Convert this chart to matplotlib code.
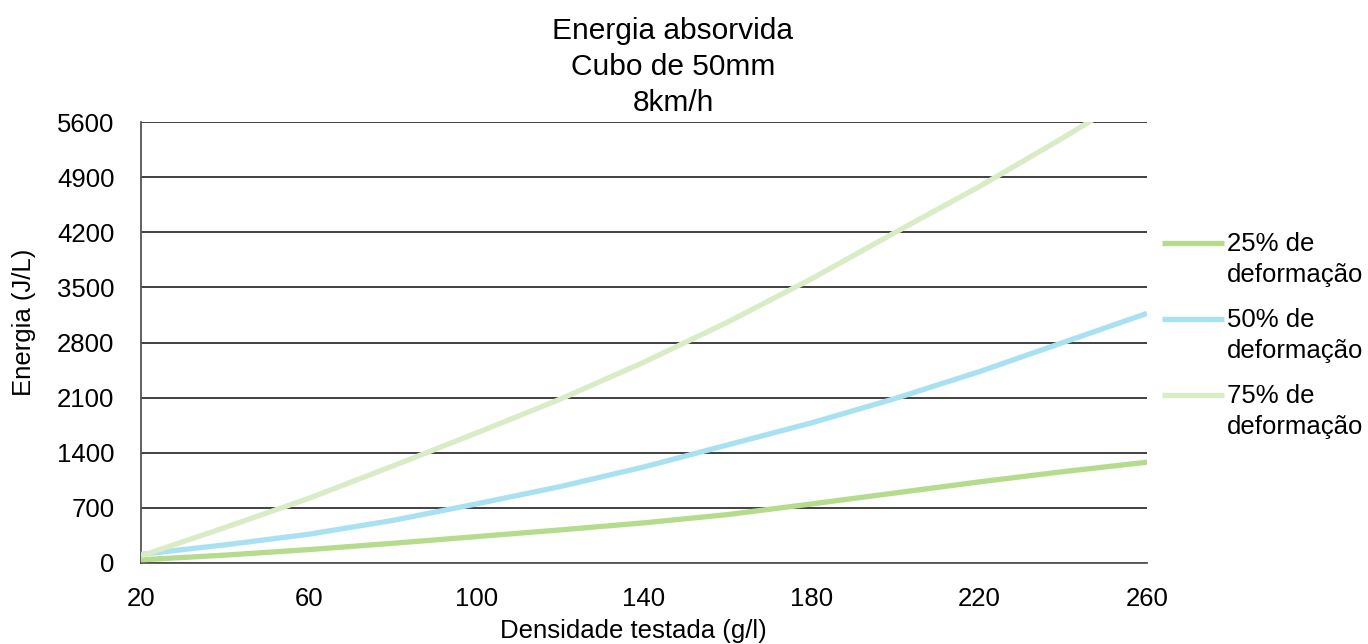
import matplotlib
matplotlib.use("Agg")
import matplotlib.pyplot as plt
from matplotlib.legend_handler import HandlerLine2D

density = [20, 40, 60, 80, 100, 120, 140, 160, 180, 200, 220, 240, 260]
def25 = [40, 100, 170, 250, 335, 420, 510, 615, 750, 890, 1030, 1160, 1280]
def50 = [110, 230, 365, 540, 750, 970, 1220, 1500, 1780, 2090, 2430, 2800, 3170]
def75 = [90, 450, 820, 1230, 1650, 2080, 2550, 3060, 3610, 4200, 4780, 5400, 6050]
labels = ["25% de\ndeformação", "50% de\ndeformação", "75% de\ndeformação"]
colors = ["#b5dc8c", "#a8e1f1", "#d9ecc6"]
xticks = [20, 60, 100, 140, 180, 220, 260]
yticks = [0, 700, 1400, 2100, 2800, 3500, 4200, 4900, 5600]

plt.rcParams['font.family'] = ['Liberation Sans', 'DejaVu Sans']


class TopLineHandler(HandlerLine2D):
    """Place the legend line next to the first text line."""
    def create_artists(self, legend, orig_handle, xdescent, ydescent, width, height, fontsize, trans):
        artists = super().create_artists(legend, orig_handle, xdescent, ydescent, width, height, fontsize, trans)
        for a in artists:
            yd = a.get_ydata()
            a.set_ydata([y + 0.66 * fontsize for y in yd])
        return artists


fig = plt.figure(figsize=(13.68, 6.44), dpi=100)
ax = fig.add_axes([141/1368, 1 - 563/644, (1147-141)/1368, (563-122)/644])

for ys, lab, c in zip([def25, def50, def75], labels, colors):
    ax.plot(density, ys, color=c, lw=3.8, label=lab, solid_capstyle='butt', zorder=3)

ax.set_xlim(20, 260)
ax.set_ylim(0, 5600)
ax.set_xticks(xticks)
ax.set_yticks(yticks)
ax.tick_params(axis='both', labelsize=18.5, colors='black')
ax.tick_params(axis='x', length=0, pad=17)
ax.tick_params(axis='y', length=0, pad=19)
ax.grid(axis='y', color='#333333', lw=1.3, zorder=1)
for s in ['top', 'right']:
    ax.spines[s].set_visible(False)
ax.spines['left'].set_color('#555555')
ax.spines['left'].set_linewidth(1.3)
ax.spines['bottom'].set_color('#555555')
ax.spines['bottom'].set_linewidth(1.3)

fig.text(673/1368, 1 - 17/644, "Energia absorvida\nCubo de 50mm\n8km/h", ha='center', va='top',
         fontsize=21.5, linespacing=1.36)
fig.text(633/1368, 1 - 631/644, "Densidade testada (g/l)", ha='center', va='center', fontsize=18.5)
fig.text(24/1368, 1 - 322/644, "Energia (J/L)", ha='center', va='center', rotation=90, fontsize=18.5)

leg = fig.legend(loc='upper left', bbox_to_anchor=(1162/1368, 1 - 232/644), frameon=False,
                 fontsize=18.5, handlelength=2.4, handletextpad=0.12, labelspacing=0.82,
                 borderaxespad=0, borderpad=0,
                 handler_map={matplotlib.lines.Line2D: TopLineHandler()})
for t in leg.get_texts():
    t.set_linespacing(1.36)

fig.savefig("out.png", dpi=100)
